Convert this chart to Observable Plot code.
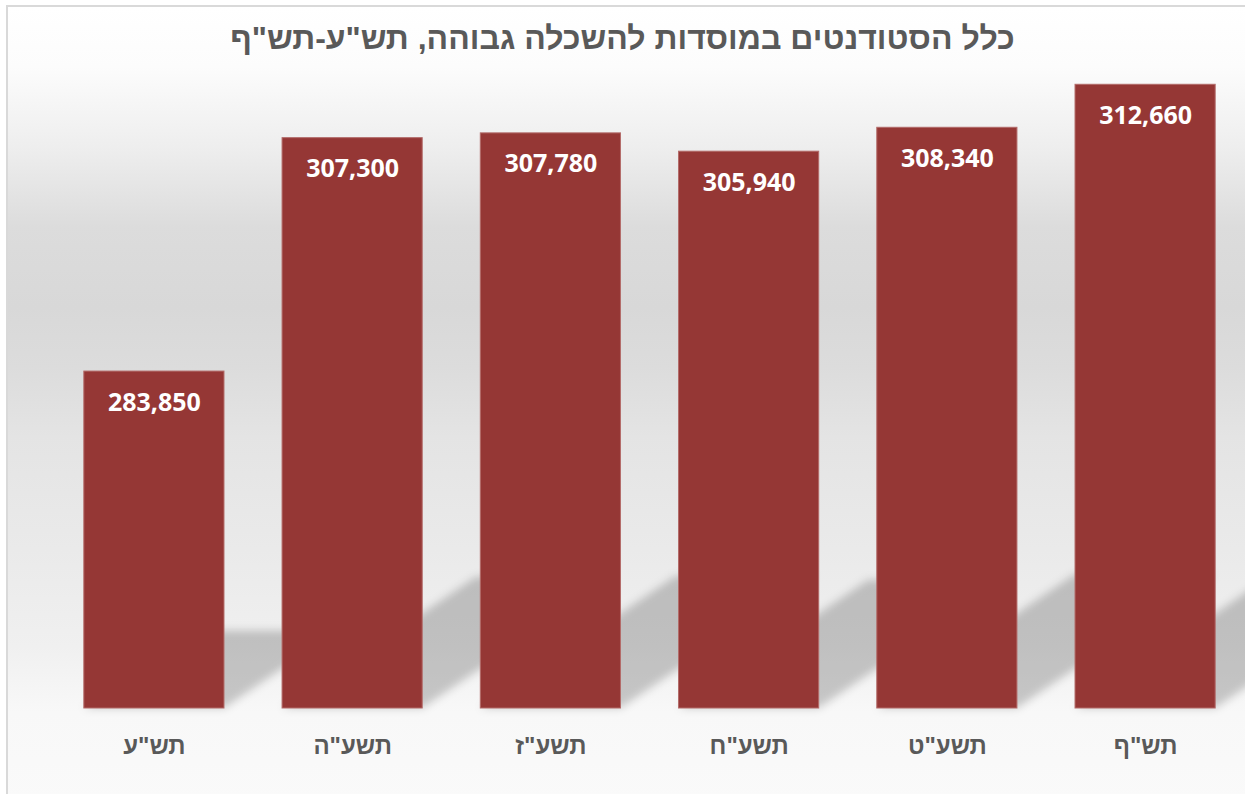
<!DOCTYPE html>
<html>
<head>
<meta charset="utf-8">
<script src="https://cdn.jsdelivr.net/npm/d3@7"></script>
<script src="https://cdn.jsdelivr.net/npm/@observablehq/plot@0.6"></script>
<style>
  html, body { margin: 0; padding: 0; background: #ffffff; }
  #frame {
    position: absolute; left: 6px; top: 5px; width: 1250px; height: 800px;
    border-left: 2px solid #d9d9d9; border-top: 2px solid #d9d9d9;
    background: linear-gradient(to bottom, #ffffff 0px, #fcfcfc 60px, #eeeeee 140px, #dcdcdc 220px, #d8d8d8 300px, #dcdcdc 360px, #e4e4e4 430px, #ebebeb 560px, #f0f0f0 640px, #f8f8f8 705px, #fafafa 800px);
  }
  #title {
    position: absolute; left: 0; top: 0; width: 1245px; height: 60px;
    text-align: center; line-height: 76px;
    font-family: "Liberation Sans", Arial, sans-serif; font-weight: bold; font-size: 32px; color: #595959;
  }
  #chart { position: absolute; left: 0; top: 60px; }
</style>
</head>
<body>
<div id="frame"></div>
<div id="title" dir="rtl">כלל הסטודנטים במוסדות להשכלה גבוהה, תש"ע-תש"ף</div>
<div id="chart"></div>
<script>
const years = ['תש"ע', 'תשע"ה', 'תשע"ז', 'תשע"ח', 'תשע"ט', 'תש"ף'];
const students = [283850, 307300, 307780, 305940, 308340, 312660];
const yDomain = [250000, 315000];

const data = years.map((year, i) => ({year, value: students[i]}));

const shA = 0.34, shB = 0.23;

const shadowRender = (index, scales, values, dimensions, context, next) => {
  const g = next(index, scales, values, dimensions, context);
  const ns = "http://www.w3.org/2000/svg";
  const B = scales.y(yDomain[0]);
  const outer = document.createElementNS(ns, "g");
  const defs = document.createElementNS(ns, "defs");
  const filter = document.createElementNS(ns, "filter");
  filter.setAttribute("id", "shblur");
  filter.setAttribute("x", "-20%"); filter.setAttribute("y", "-20%");
  filter.setAttribute("width", "140%"); filter.setAttribute("height", "140%");
  const blur = document.createElementNS(ns, "feGaussianBlur");
  blur.setAttribute("stdDeviation", "4");
  filter.appendChild(blur);
  defs.appendChild(filter);
  outer.appendChild(defs);
  const inner = document.createElementNS(ns, "g");
  inner.setAttribute("transform", `matrix(1,0,${-shA},${shB},${shA * B},${(1 - shB) * B})`);
  inner.appendChild(g);
  outer.appendChild(inner);
  outer.setAttribute("filter", "url(#shblur)");
  return outer;
};

const chart = Plot.plot({
  width: 1245,
  height: 734,
  marginTop: 1,
  marginBottom: 86,
  marginLeft: 64,
  marginRight: 10,
  style: {background: "transparent", overflow: "visible"},
  x: {domain: years, paddingInner: 0.293, paddingOuter: 0.1, round: false, label: null},
  y: {domain: yDomain, axis: null},
  marks: [
    Plot.barY(data, {x: "year", y1: yDomain[0], y2: "value", fill: "#000", fillOpacity: 0.2, render: shadowRender}),
    Plot.barY(data, {x: "year", y1: yDomain[0], y2: "value", fill: "#953735", stroke: "#b36b69", strokeWidth: 1}),
    Plot.text(data, {x: "year", y: "value", text: d => d3.format(",")(d.value), dy: 31, fill: "white",
      fontFamily: "Open Sans", fontWeight: "bold", fontSize: 25}),
    Plot.axisX({tickSize: 0, tickPadding: 28, fontSize: 24, fontWeight: "bold", fill: "#595959",
      fontFamily: "Liberation Sans", label: null})
  ]
});
document.getElementById("chart").appendChild(chart);
</script>
</body>
</html>
